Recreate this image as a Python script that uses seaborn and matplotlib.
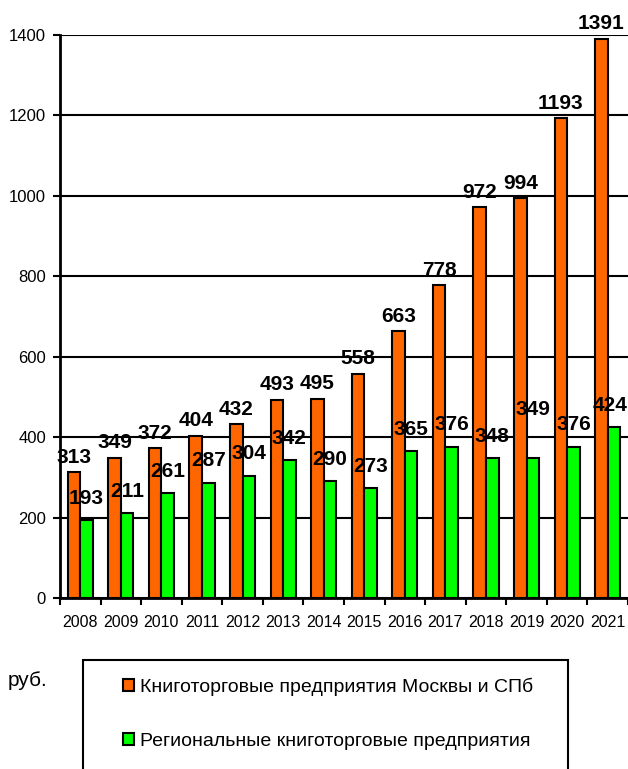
"""Bookstore chain revenue per employee, Moscow/SPb vs regions, 2008-2021."""

import matplotlib
matplotlib.use("Agg")
import matplotlib.pyplot as plt
import seaborn as sns
import pandas as pd
from matplotlib.patches import Rectangle, Patch

years = [str(y) for y in range(2008, 2022)]
moscow_spb = [313, 349, 372, 404, 432, 493, 495, 558, 663, 778, 972, 994, 1193, 1391]
regions = [193, 211, 261, 287, 304, 342, 290, 273, 365, 376, 348, 349, 376, 424]

series_names = ["Книготорговые предприятия Москвы и СПб",
                "Региональные книготорговые предприятия"]
unit_label = "руб."

ORANGE = "#FF6600"
GREEN = "#00FF00"

sns.set_style("white")
plt.rcParams['font.family'] = ['Liberation Sans', 'DejaVu Sans']
for key in ["text.color", "axes.labelcolor", "xtick.color", "ytick.color"]:
    plt.rcParams[key] = "black"

df = pd.DataFrame({
    "year": years * 2,
    "value": moscow_spb + regions,
    "series": [series_names[0]] * len(years) + [series_names[1]] * len(years),
})

fig = plt.figure(figsize=(6.28, 7.69), dpi=100)
ax = fig.add_axes([60 / 628, 1 - 598 / 769, 568 / 628, (598 - 35) / 769])

sns.barplot(data=df, x="year", y="value", hue="series",
            palette=[ORANGE, GREEN], width=0.62, dodge=True,
            edgecolor="black", linewidth=1.5, saturation=1,
            legend=False, ax=ax)

ax.set_xlim(-0.5, len(years) - 0.5)
ax.set_ylim(0, 1400)
ax.set_yticks(range(0, 1401, 200))
ax.set_axisbelow(True)
ax.yaxis.grid(True, color="black", linewidth=1.5)
ax.xaxis.grid(False)

for side in ["top", "right"]:
    ax.spines[side].set_visible(False)
for side in ["left", "bottom"]:
    ax.spines[side].set_color("black")
    ax.spines[side].set_linewidth(2)

# category separators as ticks
ax.set_xticks([i + 0.5 for i in range(-1, len(years))], minor=True)
ax.tick_params(axis="x", which="major", length=0, pad=12, labelsize=11.5)
ax.tick_params(axis="x", which="minor", length=5, width=1.5, color="black",
               direction="out", bottom=True)
ax.tick_params(axis="y", length=5, width=1.5, color="black", direction="out",
               left=True, labelsize=12, pad=5)
ax.set_xlabel("")
ax.set_ylabel("")

# value labels
ax.bar_label(ax.containers[0], fontsize=15, fontweight="bold", padding=4, clip_on=False)
green_labels = ax.bar_label(ax.containers[1], fontsize=15, fontweight="bold",
                            padding=9, clip_on=False)
# labels that were dragged by hand in the original
green_labels[11].xyann = (0, 28)
green_labels[-1].xyann = (-3, 9)

fig.text(8 / 628, 1 - 681 / 769, unit_label, fontsize=15, va="center", ha="left")

fig.patches.append(Rectangle((83 / 628, -0.05), 485 / 628, 0.05 + 1 - 660 / 769,
                             transform=fig.transFigure, fill=False,
                             edgecolor="black", linewidth=1.5))
handles = [Patch(facecolor=ORANGE, edgecolor="black", linewidth=1.5),
           Patch(facecolor=GREEN, edgecolor="black", linewidth=1.5)]
fig.legend(handles, series_names, loc="center left",
           bbox_to_anchor=(105 / 628, 1 - 714 / 769), frameon=False,
           fontsize=14, handlelength=0.6, handleheight=0.6,
           handletextpad=0.3, labelspacing=1.9)

fig.savefig("out.png", dpi=100)
